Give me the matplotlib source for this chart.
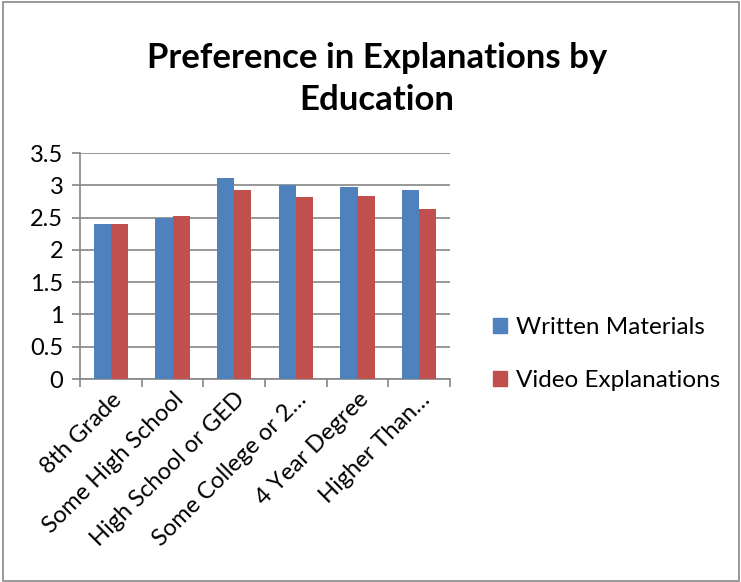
import matplotlib
matplotlib.use("Agg")
import matplotlib.pyplot as plt
import numpy as np
from matplotlib.patches import Rectangle, Patch

categories = ["8th Grade", "Some High School", "High School or GED",
              "Some College or 2…", "4 Year Degree", "Higher Than…"]
written = [2.40, 2.49, 3.12, 3.00, 2.97, 2.93]
video = [2.40, 2.52, 2.93, 2.82, 2.84, 2.64]
yticks = [0, 0.5, 1, 1.5, 2, 2.5, 3, 3.5]
ytick_labels = ["0", "0.5", "1", "1.5", "2", "2.5", "3", "3.5"]

BLUE = "#4F81BD"
RED = "#C0504D"
GRID = "#868686"
FONT = ["Lato", "DejaVu Sans"]

W, H = 741, 582
fig = plt.figure(figsize=(W / 100, H / 100), dpi=100)

# chart border
fig.patches.append(Rectangle((3 / W, 1 / H), 1 - 5 / W, 1 - 3 / H,
                             transform=fig.transFigure, fill=False,
                             edgecolor="#888888", linewidth=1.2))

ax = fig.add_axes([80 / W, 1 - 379 / H, 370 / W, 226 / H])
x = np.arange(len(categories))
bw = 0.28
ax.bar(x - bw / 2, written, bw, color=BLUE, label="Written Materials", zorder=3)
ax.bar(x + bw / 2, video, bw, color=RED, label="Video Explanations", zorder=3)

ax.set_xlim(-0.5, len(categories) - 0.5)
ax.set_ylim(0, 3.5)
ax.set_yticks(yticks)
ax.set_yticklabels(ytick_labels, fontsize=17, family=FONT)
ax.yaxis.grid(True, color=GRID, linewidth=1.2, zorder=0)

ax.set_xticks(np.arange(len(categories) + 1) - 0.5, minor=False)
ax.set_xticklabels([])
ax.set_xticks(x, minor=True)
ax.set_xticklabels(categories, minor=True, rotation=45, ha="right",
                   rotation_mode="anchor", fontsize=17, family=FONT)
ax.tick_params(axis="x", which="minor", length=0, pad=7)
ax.tick_params(axis="x", which="major", length=6, color=GRID, width=1.2)
ax.tick_params(axis="y", length=6, color=GRID, width=1.2, pad=6)

for s in ["top", "right"]:
    ax.spines[s].set_visible(False)
for s in ["left", "bottom"]:
    ax.spines[s].set_color(GRID)
    ax.spines[s].set_linewidth(1.2)

fig.text(377 / W, 1 - 79 / H, "Preference in Explanations by\nEducation",
         ha="center", va="center", fontsize=25, fontweight="bold",
         family=FONT, linespacing=1.38)

handles = [Patch(color=BLUE), Patch(color=RED)]
fig.legend(handles, ["Written Materials", "Video Explanations"],
           loc="center left", bbox_to_anchor=(471 / W, 1 - 354 / H),
           frameon=False, prop={"family": FONT, "size": 17.5},
           handlelength=0.6, handleheight=0.6, handletextpad=0.35,
           labelspacing=1.3)

fig.savefig("out.png", dpi=100)
